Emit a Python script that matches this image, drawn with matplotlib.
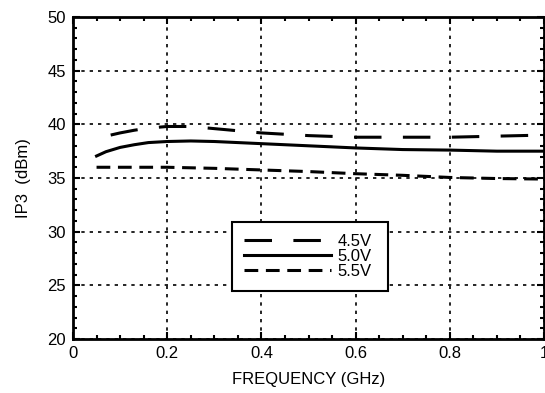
import matplotlib
matplotlib.use("Agg")
import matplotlib.pyplot as plt
from matplotlib.ticker import MultipleLocator

plt.rcParams["font.family"] = ["Liberation Sans", "DejaVu Sans"]
plt.rcParams["font.size"] = 12

# IP3 vs frequency for three supply voltages
freq_45 = [0.08, 0.1, 0.13, 0.16, 0.2, 0.25, 0.3, 0.35, 0.4, 0.5, 0.6, 0.7, 0.8, 0.9, 1.0]
ip3_45 = [39.0, 39.2, 39.45, 39.65, 39.8, 39.8, 39.6, 39.4, 39.2, 38.95, 38.8, 38.8, 38.8, 38.9, 39.0]

freq_50 = [0.05, 0.07, 0.1, 0.13, 0.16, 0.2, 0.25, 0.3, 0.4, 0.5, 0.6, 0.7, 0.8, 0.9, 1.0]
ip3_50 = [37.05, 37.45, 37.85, 38.1, 38.3, 38.4, 38.45, 38.4, 38.2, 38.0, 37.8, 37.65, 37.6, 37.5, 37.5]

freq_55 = [0.05, 0.1, 0.2, 0.3, 0.4, 0.5, 0.6, 0.7, 0.8, 0.9, 1.0]
ip3_55 = [36.0, 36.0, 36.0, 35.9, 35.75, 35.6, 35.4, 35.25, 35.05, 34.95, 34.9]

labels = ["4.5V", "5.0V", "5.5V"]

fig = plt.figure(figsize=(5.45, 3.93), dpi=100)
ax = fig.add_axes([73 / 545, 54 / 393, 471 / 545, 322 / 393])

ax.plot(freq_45, ip3_45, color="black", lw=2.2, dashes=(9, 7), label=labels[0])
ax.plot(freq_50, ip3_50, color="black", lw=2.2, label=labels[1])
ax.plot(freq_55, ip3_55, color="black", lw=2.2, dashes=(4.5, 2.5), label=labels[2])

ax.set_xlim(0, 1)
ax.set_ylim(20, 50)
ax.set_xticks([0, 0.2, 0.4, 0.6, 0.8, 1.0])
ax.set_xticklabels(["0", "0.2", "0.4", "0.6", "0.8", "1"])
ax.xaxis.set_minor_locator(MultipleLocator(0.05))
ax.yaxis.set_major_locator(MultipleLocator(5))
ax.yaxis.set_minor_locator(MultipleLocator(1))
ax.tick_params(which="both", direction="in", top=True, right=True, width=1.5)
ax.tick_params(which="major", length=5, pad=5)
ax.tick_params(which="minor", length=3)
ax.grid(True, which="major", color="black", linestyle=(0, (2, 3)), lw=1.2)
for s in ax.spines.values():
    s.set_linewidth(2)

ax.set_xlabel("FREQUENCY (GHz)", labelpad=8)
ax.set_ylabel("IP3  (dBm)", labelpad=12)

leg = ax.legend(loc="center", bbox_to_anchor=(0.338, 0.146, 0.331, 0.22),
                fancybox=False, framealpha=1, edgecolor="black",
                handlelength=5.2, handletextpad=0.4, labelspacing=0.0,
                borderpad=0.7, fontsize=12, mode="expand", borderaxespad=0)
leg.get_frame().set_linewidth(1.5)

fig.savefig("out.png", dpi=100)
